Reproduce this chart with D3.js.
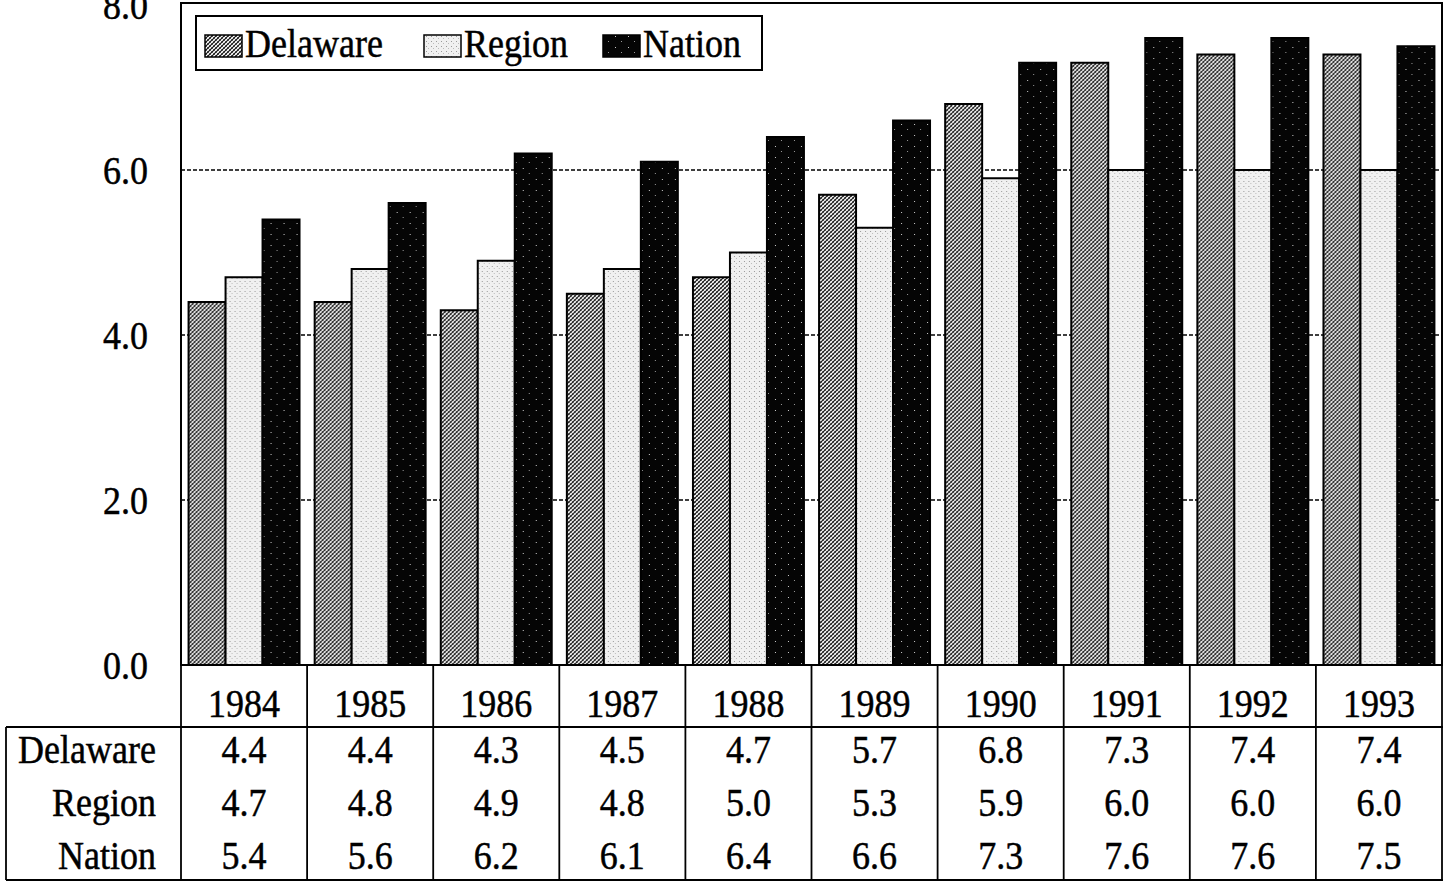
<!DOCTYPE html>
<html lang="en">
<head>
<meta charset="utf-8">
<title>Delaware / Region / Nation</title>
<script src="https://cdn.jsdelivr.net/npm/d3@7"></script>
<style>
  body { margin: 0; background: #fff; }
  svg text { font-family: "Liberation Serif", "Times New Roman", serif; fill: #000; font-size: 36px;
             stroke: #000; stroke-width: 0.45px; }
  .tick-label { text-anchor: end; }
  .cell { text-anchor: middle; }
  .row-label { text-anchor: end; }
</style>
</head>
<body>
<script>
// data
var years = ["1984", "1985", "1986", "1987", "1988", "1989", "1990", "1991", "1992", "1993"];
var series = ["Delaware", "Region", "Nation"];
var delaware = [4.4, 4.4, 4.3, 4.5, 4.7, 5.7, 6.8, 7.3, 7.4, 7.4];
var region = [4.7, 4.8, 4.9, 4.8, 5.0, 5.3, 5.9, 6.0, 6.0, 6.0];
var nation = [5.4, 5.6, 6.2, 6.1, 6.4, 6.6, 7.3, 7.6, 7.6, 7.5];
var yTicks = [0, 2, 4, 6, 8];

var values = { Delaware: delaware, Region: region, Nation: nation };

var W = 1444, H = 882;
var plotLeft = 181, plotRight = 1442, plotTop = 5, plotBottom = 665;
var tableLeft = 6, yearRowBottom = 727, tableBottom = 880;
var stretch = "scale(1,1.12)";   // scanned type is a bit taller than Liberation Serif

var svg = d3.select("body").append("svg")
  .attr("width", W).attr("height", H);

// fill patterns
var defs = svg.append("defs");
var hatch = defs.append("pattern").attr("id", "pDel")
  .attr("width", 4).attr("height", 4).attr("patternUnits", "userSpaceOnUse");
hatch.append("rect").attr("width", 4).attr("height", 4).attr("fill", "#fff");
hatch.append("path").attr("d", "M0,4 L4,0 M-1,1 L1,-1 M3,5 L5,3").attr("stroke", "#111").attr("stroke-width", 1.2);
hatch.append("path").attr("d", "M0,0 L4,4 M-1,3 L1,5 M3,-1 L5,1").attr("stroke", "#444").attr("stroke-width", 0.8);

var dots = defs.append("pattern").attr("id", "pReg")
  .attr("width", 5).attr("height", 5).attr("patternUnits", "userSpaceOnUse");
dots.append("rect").attr("width", 5).attr("height", 5).attr("fill", "#f0f0f0");
dots.append("rect").attr("x", 1).attr("y", 1).attr("width", 1).attr("height", 1).attr("fill", "#999");
dots.append("rect").attr("x", 3).attr("y", 3).attr("width", 1).attr("height", 1).attr("fill", "#bbb");

var speck = defs.append("pattern").attr("id", "pNat")
  .attr("width", 13).attr("height", 11).attr("patternUnits", "userSpaceOnUse");
speck.append("rect").attr("width", 13).attr("height", 11).attr("fill", "#050505");
speck.append("rect").attr("x", 4).attr("y", 3).attr("width", 1).attr("height", 1).attr("fill", "#ccc");
speck.append("rect").attr("x", 10).attr("y", 8).attr("width", 1).attr("height", 1).attr("fill", "#999");

var fills = { Delaware: "url(#pDel)", Region: "url(#pReg)", Nation: "url(#pNat)" };

// scales
var x0 = d3.scaleBand().domain(years).range([plotLeft, plotRight]).paddingInner(0.12).paddingOuter(0.06);
var x1 = d3.scaleBand().domain(series).range([0, x0.bandwidth()]);
var y = d3.scaleLinear().domain([0, 8]).range([plotBottom, plotTop]);
var col = d3.scaleBand().domain(years).range([plotLeft, plotRight]);

// helper: stretched text placed by translate
function label(g, cls, x, yy, txt) {
  g.append("text").attr("class", cls)
    .attr("transform", "translate(" + x + "," + yy + ") " + stretch)
    .text(txt);
}

// gridlines
svg.append("g").selectAll("line")
  .data(yTicks.filter(function (t) { return t > 0 && t < 8; }))
  .enter().append("line")
  .attr("x1", plotLeft).attr("x2", plotRight)
  .attr("y1", function (d) { return y(d); }).attr("y2", function (d) { return y(d); })
  .attr("stroke", "#000").attr("stroke-width", 1.3)
  .attr("stroke-dasharray", "4,2");

// y axis labels
var yAxis = d3.axisLeft(y).tickValues(yTicks).tickFormat(d3.format(".1f")).tickSize(0).tickPadding(33);
var ya = svg.append("g").attr("transform", "translate(" + plotLeft + ",0)").call(yAxis);
ya.select(".domain").remove();
ya.selectAll("text").attr("class", "tick-label").attr("font-size", null).attr("font-family", null)
  .attr("x", null).attr("dy", null)
  .attr("transform", "translate(-33,13) " + stretch);

// bars
var groups = svg.append("g").selectAll("g")
  .data(years).enter().append("g")
  .attr("transform", function (d) { return "translate(" + x0(d) + ",0)"; });

groups.selectAll("rect")
  .data(function (yr, i) { return series.map(function (s) { return { s: s, v: values[s][i] }; }); })
  .enter().append("rect")
  .attr("x", function (d) { return x1(d.s); })
  .attr("width", x1.bandwidth())
  .attr("y", function (d) { return y(d.v); })
  .attr("height", function (d) { return plotBottom - y(d.v); })
  .attr("fill", function (d) { return fills[d.s]; })
  .attr("stroke", "#000").attr("stroke-width", 2);

// plot frame
svg.append("rect")
  .attr("x", plotLeft).attr("y", 3).attr("width", plotRight - plotLeft).attr("height", plotBottom - 3)
  .attr("fill", "none").attr("stroke", "#000").attr("stroke-width", 2);

// legend
var lg = svg.append("g");
lg.append("rect").attr("x", 196).attr("y", 16).attr("width", 566).attr("height", 54)
  .attr("fill", "#fff").attr("stroke", "#000").attr("stroke-width", 2);
var legX = [205, 424, 603];
series.forEach(function (s, i) {
  lg.append("rect").attr("x", legX[i]).attr("y", 35).attr("width", 37).attr("height", 22)
    .attr("fill", fills[s]).attr("stroke", "#000").attr("stroke-width", 1.5);
  label(lg, "legend-text", legX[i] + 40, 57, s);
});

// data table
var tbl = svg.append("g");
var lineAttr = function (sel) { return sel.attr("stroke", "#000").attr("stroke-width", 1.8); };

tbl.append("line").attr("x1", tableLeft).attr("x2", plotRight + 1)
  .attr("y1", yearRowBottom).attr("y2", yearRowBottom).call(lineAttr);
tbl.append("line").attr("x1", tableLeft).attr("x2", plotRight + 1)
  .attr("y1", tableBottom).attr("y2", tableBottom).call(lineAttr);
tbl.append("line").attr("x1", tableLeft).attr("x2", tableLeft)
  .attr("y1", yearRowBottom).attr("y2", tableBottom).call(lineAttr);

var colEdges = years.map(function (yr) { return col(yr); }).concat([plotRight]);
tbl.selectAll(".vline").data(colEdges).enter().append("line")
  .attr("class", "vline")
  .attr("x1", function (d) { return d; }).attr("x2", function (d) { return d; })
  .attr("y1", plotBottom).attr("y2", tableBottom).call(lineAttr);

years.forEach(function (yr) {
  label(tbl, "cell", col(yr) + col.bandwidth() / 2, 717, yr);
});

var rowY = d3.scalePoint().domain(series).range([763, 869]);
series.forEach(function (s) {
  label(tbl, "row-label", 156, rowY(s), s);
  values[s].forEach(function (v, i) {
    label(tbl, "cell", col(years[i]) + col.bandwidth() / 2, rowY(s), d3.format(".1f")(v));
  });
});
</script>
</body>
</html>
